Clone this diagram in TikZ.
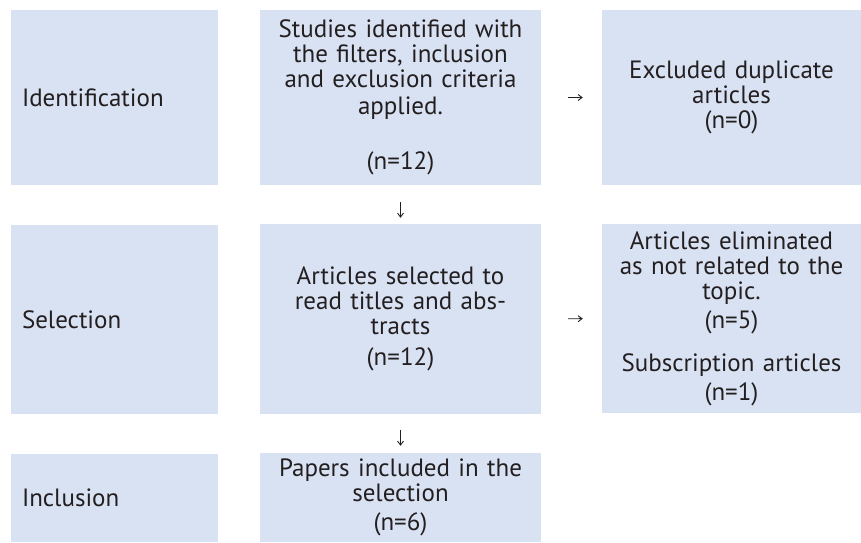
\documentclass[tikz,border=0pt]{standalone}
\usepackage{fontspec}
\setmainfont{PT Sans}
\usetikzlibrary{arrows.meta}
\definecolor{boxfill}{HTML}{D9E2F3}
\definecolor{ink}{HTML}{231F20}
\begin{document}
\begin{tikzpicture}[x=1pt,y=-1pt,
  box/.style={fill=boxfill, draw=none, inner sep=0pt, text=ink,
    font=\fontsize{25}{25}\selectfont},
  stagebox/.style={box, text width=185pt, inner xsep=11pt, align=left},
  midbox/.style={box, text width=261pt, inner xsep=10pt, align=center},
  sidebox/.style={box, text width=239pt, inner xsep=10pt, align=center},
  flow/.style={draw=ink, line width=0.9pt, -{Straight Barb[length=4pt,width=6pt]}}
]
\useasboundingbox (0,0) rectangle (861,542);
% stage labels
\node[stagebox, minimum height=175pt] (L1) at (114.5,97.5) {Identification};
\node[stagebox, minimum height=189pt] (L2) at (114.5,319.5) {Selection};
\node[stagebox, minimum height=88pt]  (L3) at (114.5,498) {Inclusion};
% main column
\node[midbox, minimum height=175pt] (M1) at (400.5,97.5)
  {Studies identified with\\the filters, inclusion\\and exclusion criteria\\[2pt]applied.\\[30pt](n=12)};
\node[midbox, minimum height=190pt] (M2) at (400.5,319)
  {Articles selected to\\read titles and abs-\\tracts\\[6pt](n=12)};
\node[midbox, minimum height=89pt] (M3) at (400.5,497.5)
  {Papers included in the\\selection\\[4pt](n=6)};
% side column
\node[sidebox, minimum height=175pt] (R1) at (731.5,97.5)
  {Excluded duplicate\\articles\\(n=0)};
\node[sidebox, minimum height=189pt] (R2) at (731.5,318.5)
  {Articles eliminated\\as not related to the\\topic.\\[4pt](n=5)\\[18pt]Subscription articles\\[4pt](n=1)};
% connectors
\draw[flow, shorten <=27pt, shorten >=19pt] (M1.east) -- (R1.west);
\draw[flow, shorten <=27pt, shorten >=19pt] (M2.east) -- (R2.west);
\draw[flow, shorten <=17pt, shorten >=6pt] (M1.south) -- (M2.north);
\draw[flow, shorten <=16pt, shorten >=7pt] (M2.south) -- (M3.north);
\end{tikzpicture}
\end{document}
